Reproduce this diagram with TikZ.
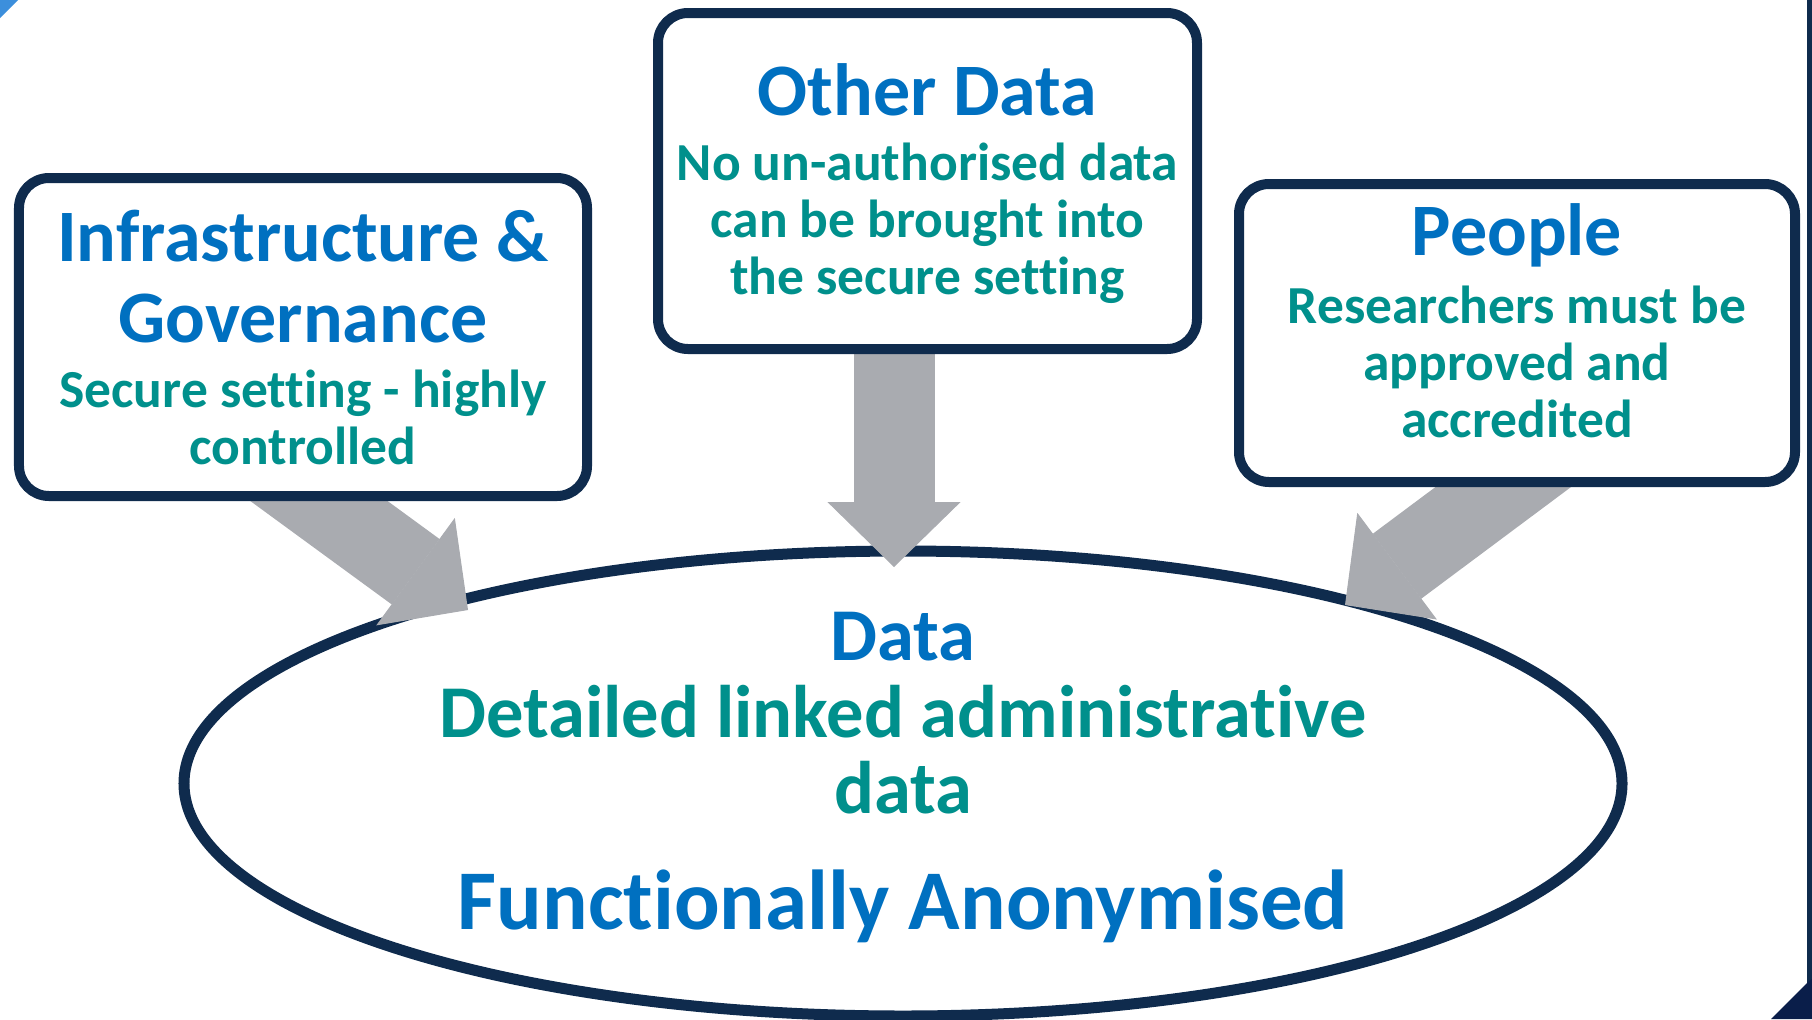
\documentclass[tikz,border=0pt]{standalone}
\usepackage{fontspec}
\setmainfont{Carlito}[Ligatures=NoCommon]
\usetikzlibrary{arrows.meta,shapes.geometric}
\definecolor{boxnavy}{HTML}{0F2B4D}
\definecolor{headblue}{HTML}{0070C0}
\definecolor{noteteal}{HTML}{00908C}
\definecolor{arrowgrey}{HTML}{A9ABB0}
\definecolor{cornerblue}{HTML}{3C8FDC}
\definecolor{edgenavy}{HTML}{0A1E4A}
\newcommand{\setsize}[2]{\fontsize{#1}{#2}\selectfont\bfseries\spaceskip=0.226em\relax}
\newcommand{\headfont}{\setsize{74bp}{81bp}\color{headblue}}
\newcommand{\notefont}{\setsize{53.5bp}{57bp}\color{noteteal}}
\tikzstyle{qbox}=[rectangle, draw=boxnavy, line width=10bp, rounded corners=30bp, fill=white, align=center, inner sep=0pt]
\tikzstyle{qoval}=[ellipse, draw=boxnavy, line width=11bp, fill=white, inner sep=0pt]
\tikzstyle{qarrow}=[draw=arrowgrey, line width=81bp, -{Triangle[length=65bp,width=133bp,line width=1bp]}]

\begin{document}
\begin{tikzpicture}[x=1bp,y=-1bp]
  \useasboundingbox (0,0) rectangle (1812,1019);
  % slide corners
  \fill[cornerblue] (0,0) -- (18,0) -- (0,18) -- cycle;
  \fill[boxnavy] (1807,0) rectangle (1812,983);
  \fill[edgenavy] (1812,979) -- (1812,1019) -- (1771,1019) -- (1807,983) -- cycle;

  \node[qoval, minimum width=1438bp, minimum height=465bp] (data) at (903,783.5) {};
  \node[align=center, inner sep=0pt, text width=1000bp] (datatext) at (903,778)
    {\setsize{74.5bp}{88bp}\color{headblue} Data\par
     \setsize{74.5bp}{76.5bp}\color{noteteal} Detailed linked administrative\\ data\par
     \vskip 31bp
     \setsize{85bp}{85bp}\color{headblue} Functionally Anonymised\par};

  \coordinate (infrafoot) at (256,455);
  \coordinate (infratip) at (468,610);
  \coordinate (otherfoot) at (894,330);
  \coordinate (othertip) at (894,567);
  \coordinate (peoplefoot) at (1569,438);
  \coordinate (peopletip) at (1345,605);
  \draw[qarrow] (infrafoot) -- (infratip);
  \draw[qarrow] (otherfoot) -- (othertip);
  \draw[qarrow] (peoplefoot) -- (peopletip);

  \node[qbox, text width=548bp, minimum width=568bp, minimum height=318bp] (infra) at (303,337)
    {\headfont Infrastructure \&\\ Governance\par\vskip 8bp
     \notefont Secure setting - highly\\ controlled\par};
  \node[qbox, text width=519bp, minimum width=539bp, minimum height=336bp] (other) at (927.5,181)
    {\headfont Other Data\par\vskip 8bp
     \notefont No un-authorised data\\ can be brought into\\ the secure setting\par
     \kern-6bp};
  \node[qbox, text width=536bp, minimum width=556bp, minimum height=298bp] (people) at (1517,333)
    {\headfont People\par\vskip 11bp
     \notefont Researchers must be\\ approved and\\ accredited\par
     \kern25bp};
\end{tikzpicture}
\end{document}
